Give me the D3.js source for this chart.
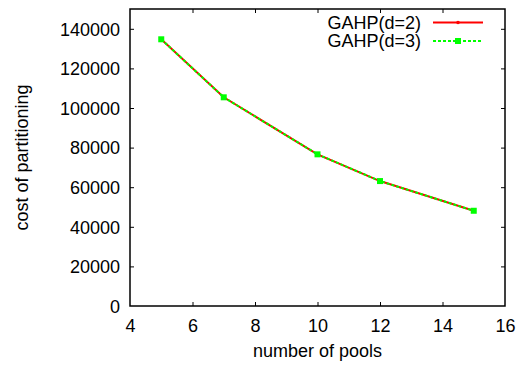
<!DOCTYPE html>
<html>
<head>
<meta charset="utf-8">
<script src="https://cdn.jsdelivr.net/npm/d3@7"></script>
<style>
  html, body { margin: 0; padding: 0; background: #fff; }
  svg { display: block; }
  text { font-family: "Liberation Sans", Arial, Helvetica, sans-serif; fill: #000; }
</style>
</head>
<body>
<svg id="chart" width="522" height="366"></svg>
<script>
const pools = [5, 7, 10, 12, 15];
const costD2 = [134700, 105400, 76600, 63100, 48100];
const costD3 = [134700, 105400, 76600, 63100, 48100];
const xTickValues = [4, 6, 8, 10, 12, 14, 16];
const yTickValues = [0, 20000, 40000, 60000, 80000, 100000, 120000, 140000];
const seriesNames = ["GAHP(d=2)", "GAHP(d=3)"];
const xLabel = "number of pools";
const yLabel = "cost of partitioning";

const svg = d3.select("#chart");
const L = 130, R = 505, T = 9, B = 306;
const x = d3.scaleLinear().domain([4, 16]).range([L, R]);
const y = d3.scaleLinear().domain([0, 150000]).range([B, T]);
const fs = 18;

// axes (ticks inward, mirrored)
const gx = svg.append("g").attr("transform", `translate(0,${B})`)
  .call(d3.axisBottom(x).tickValues(xTickValues).tickSize(-4).tickFormat(d3.format("d")));
gx.selectAll("text").attr("y", 26).attr("dy", 0).style("font-size", fs + "px");
const gxt = svg.append("g").attr("transform", `translate(0,${T})`)
  .call(d3.axisTop(x).tickValues(xTickValues).tickSize(-4).tickFormat(""));
const gy = svg.append("g").attr("transform", `translate(${L},0)`)
  .call(d3.axisLeft(y).tickValues(yTickValues).tickSize(-4).tickFormat(d3.format("d")));
gy.selectAll("text").attr("x", -10).attr("dy", "0.35em").style("font-size", fs + "px");
const gyr = svg.append("g").attr("transform", `translate(${R},0)`)
  .call(d3.axisRight(y).tickValues(yTickValues).tickSize(-4).tickFormat(""));
[gx, gxt, gy, gyr].forEach(g => {
  g.select(".domain").remove();
  g.selectAll("line").attr("stroke", "#000").attr("stroke-width", 1);
  g.attr("font-family", null).attr("font-size", null);
});
// remove end ticks that sit on frame corners
[gx, gxt].forEach(g => g.selectAll(".tick").filter(d => d === 4 || d === 16).select("line").remove());
[gy, gyr].forEach(g => g.selectAll(".tick").filter(d => d === 0).select("line").remove());

// frame
svg.append("rect").attr("x", L).attr("y", T).attr("width", R - L).attr("height", B - T)
  .attr("fill", "none").attr("stroke", "#000").attr("stroke-width", 1.5);

// labels
svg.append("text").attr("x", (L + R) / 2).attr("y", 357).attr("text-anchor", "middle")
  .style("font-size", fs + "px").text(xLabel);
svg.append("text").attr("transform", `translate(28,${(T + B) / 2}) rotate(-90)`)
  .attr("text-anchor", "middle").style("font-size", fs + "px").text(yLabel);

const line = d3.line().x((d, i) => x(pools[i])).y(d => y(d));

// series d=2
svg.append("path").datum(costD2).attr("d", line).attr("fill", "none")
  .attr("stroke", "#ff0000").attr("stroke-width", 2);
svg.selectAll(".p2").data(costD2).enter().append("circle")
  .attr("cx", (d, i) => x(pools[i])).attr("cy", d => y(d)).attr("r", 1.8).attr("fill", "#ff0000");
// series d=3
svg.append("path").datum(costD3).attr("d", line).attr("fill", "none")
  .attr("stroke", "#00ff00").attr("stroke-width", 2).attr("stroke-dasharray", "3,2");
svg.selectAll(".p3").data(costD3).enter().append("rect")
  .attr("x", (d, i) => x(pools[i]) - 3).attr("y", d => y(d) - 3)
  .attr("width", 6).attr("height", 6).attr("fill", "#00ff00");

// legend
const legY = [22.5, 41];
const legColors = ["#ff0000", "#00ff00"];
seriesNames.forEach((name, i) => {
  svg.append("text").attr("x", 421).attr("y", legY[i]).attr("dy", "0.35em")
    .attr("text-anchor", "end").style("font-size", fs + "px").text(name);
  svg.append("line").attr("x1", 433).attr("x2", 483).attr("y1", legY[i]).attr("y2", legY[i])
    .attr("stroke", legColors[i]).attr("stroke-width", 2)
    .attr("stroke-dasharray", i === 1 ? "3,2" : null);
  if (i === 0) {
    svg.append("circle").attr("cx", 458).attr("cy", legY[i]).attr("r", 1.8).attr("fill", legColors[i]);
  } else {
    svg.append("rect").attr("x", 455).attr("y", legY[i] - 3).attr("width", 6).attr("height", 6).attr("fill", legColors[i]);
  }
});
</script>
</body>
</html>
